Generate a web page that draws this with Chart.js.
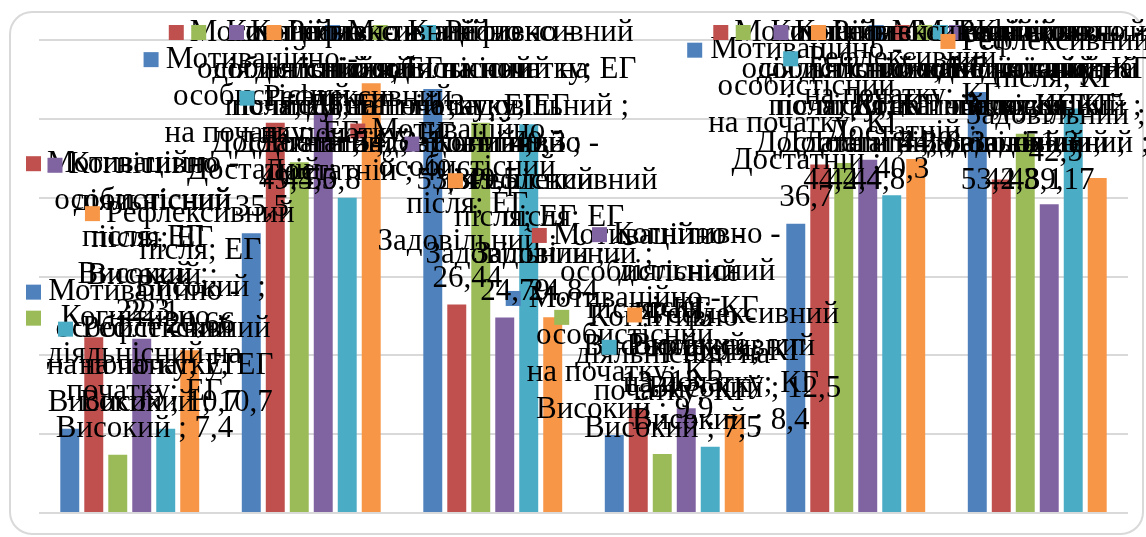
<!DOCTYPE html>
<html>
<head>
<meta charset="utf-8">
<script src="https://cdn.jsdelivr.net/npm/chart.js@4.4.1/dist/chart.umd.min.js"></script>
<style>
  html, body { margin: 0; padding: 0; background: #ffffff; }
  #wrap { position: relative; width: 1146px; height: 537px; }
</style>
</head>
<body>
<div id="wrap"><canvas id="c" width="1146" height="537"></canvas></div>
<script>
// Categories: group + level
const categories = ["ЕГ Високий", "ЕГ Достатній", "ЕГ Задовільний", "КГ Високий", "КГ Достатній", "КГ Задовільний"];

// Series names
const seriesNames = [
  "Мотиваційно - особистісний на початку",
  "Мотиваційно - особистісний після",
  "Когнітивно - діяльнісний на початку",
  "Когнітивно - діяльнісний після",
  "Рефлексивний на початку",
  "Рефлексивний після"
];

// Values, % per category
const motivStart = [10.7, 35.5, 53.8, 9.9, 36.7, 53.4];
const motivAfter = [22.3, 49.5, 26.44, 13.2, 44.2, 42.3];
const cognStart  = [7.4, 44.5, 49.5, 7.5, 44.4, 48.1];
const cognAfter  = [22.1, 50.8, 24.79, 13.3, 44.8, 39.17];
const reflStart  = [10.7, 40, 49.3, 8.4, 40.3, 51.3];
const reflAfter  = [20.66, 54.5, 24.84, 12.5, 44.9, 42.5];

// Value axis gridline values
const yTicks = [0, 10, 20, 30, 40, 50, 60];

const seriesValues = [motivStart, motivAfter, cognStart, cognAfter, reflStart, reflAfter];
const seriesColors = ["#4f81bd", "#c0504d", "#9bbb59", "#8064a2", "#4bacc6", "#f79646"];
// series whose label puts the value on a line of its own
const valueOwnLine = [false, true, false, true, false, false];

const FONT = '31px "Liberation Serif", "Times New Roman", serif';
const WRAP_W = 202;
const LINE_H = 37;
const KEY = 15, KEY_GAP = 6, GAP = 7;
const L_MIN = 26, R_MAX = 1150, T_MIN = 14;

function fmt(v) { return String(v).replace('.', ','); }

function wrapText(ctx, text, maxW) {
  const words = text.split(' ');
  const lines = [];
  let cur = '';
  words.forEach(w => {
    const test = cur ? cur + ' ' + w : w;
    if (cur && ctx.measureText(test).width > maxW) {
      lines.push(cur);
      cur = w;
    } else {
      cur = test;
    }
  });
  if (cur) lines.push(cur);
  return lines;
}

// rounded chart border
const framePlugin = {
  id: 'frame',
  beforeDraw(chart) {
    const ctx = chart.ctx;
    ctx.save();
    ctx.fillStyle = '#ffffff';
    ctx.fillRect(0, 0, chart.width, chart.height);
    ctx.strokeStyle = '#d9d9d9';
    ctx.lineWidth = 2;
    ctx.beginPath();
    ctx.roundRect(10, 12, 1133, 522, 22);
    ctx.stroke();
    ctx.restore();
  }
};

// data labels with legend key: "series; category ; value"
const labelPlugin = {
  id: 'keyedLabels',
  afterDatasetsDraw(chart) {
    const ctx = chart.ctx;
    ctx.save();
    ctx.font = FONT;
    ctx.textBaseline = 'middle';
    ctx.textAlign = 'center';
    chart.data.datasets.forEach((ds, di) => {
      const meta = chart.getDatasetMeta(di);
      meta.data.forEach((bar, i) => {
        const head = ds.label + '; ' + chart.data.labels[i] + ' ;';
        const val = fmt(ds.data[i]);
        let lines;
        if (valueOwnLine[di]) {
          lines = wrapText(ctx, head, WRAP_W).concat([val]);
        } else {
          lines = wrapText(ctx, head + ' ' + val, WRAP_W);
        }
        const textW = Math.max(...lines.map(l => ctx.measureText(l).width));
        const total = KEY + KEY_GAP + textW;
        let left = bar.x - total / 2;
        left = Math.max(L_MIN, Math.min(left, R_MAX - total));
        let top = bar.y - GAP - lines.length * LINE_H;
        top = Math.max(T_MIN, top);
        ctx.fillStyle = ds.backgroundColor;
        ctx.fillRect(left, top + LINE_H / 2 - KEY / 2, KEY, KEY);
        ctx.fillStyle = '#000000';
        const tx = left + KEY + KEY_GAP + textW / 2;
        lines.forEach((ln, k) => ctx.fillText(ln, tx, top + LINE_H * (k + 0.5)));
      });
    });
    ctx.restore();
  }
};

new Chart(document.getElementById('c'), {
  type: 'bar',
  data: {
    labels: categories,
    datasets: seriesNames.map((name, k) => ({
      label: name,
      data: seriesValues[k],
      backgroundColor: seriesColors[k],
      borderWidth: 0,
      barPercentage: 0.79,
      categoryPercentage: 0.793
    }))
  },
  options: {
    responsive: false,
    animation: false,
    devicePixelRatio: 1,
    layout: { padding: { left: 39, right: 18, top: 40, bottom: 24 } },
    plugins: { legend: { display: false }, tooltip: { enabled: false } },
    scales: {
      x: { display: false },
      y: {
        min: 0,
        max: 60,
        afterBuildTicks: s => { s.ticks = yTicks.map(v => ({ value: v })); },
        ticks: { display: false },
        grid: { color: '#d9d9d9', lineWidth: 2, drawTicks: false },
        border: { display: false }
      }
    }
  },
  plugins: [framePlugin, labelPlugin]
});
</script>
</body>
</html>
